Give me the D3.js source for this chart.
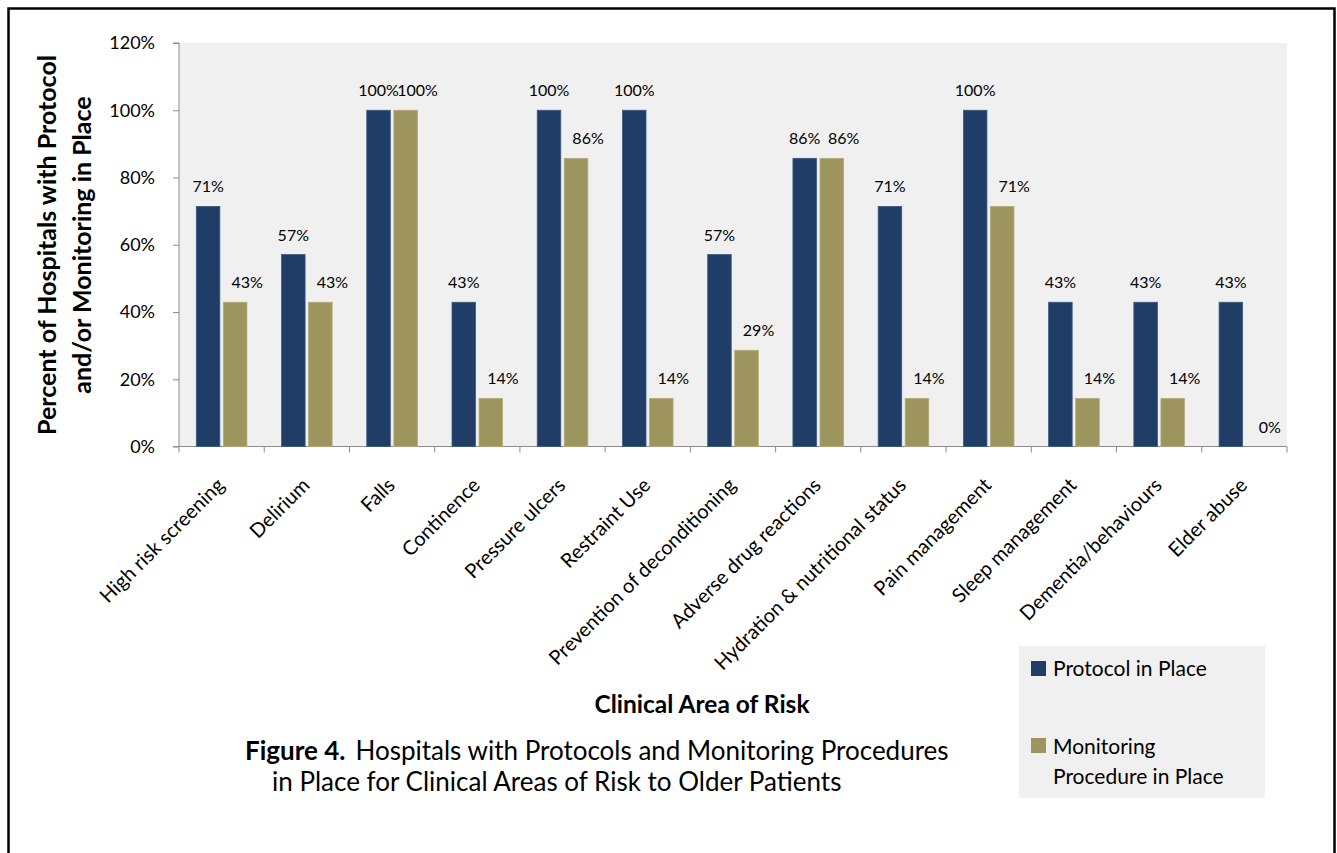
<!DOCTYPE html>
<html><head><meta charset="utf-8">
<script src="https://cdn.jsdelivr.net/npm/d3@7"></script>
<style>body{margin:0;background:#fff}svg{display:block;font-family:Lato,"Open Sans",sans-serif}</style>
</head><body><svg id="c" width="1337" height="853"></svg>
<script>
const categories = ["High risk screening","Delirium","Falls","Continence","Pressure ulcers","Restraint Use","Prevention of deconditioning","Adverse drug reactions","Hydration & nutritional status","Pain management","Sleep management","Dementia/behaviours","Elder abuse"];
const protocolValues = [71.4,57.1,100,42.9,100,100,57.1,85.7,71.4,100,42.9,42.9,42.9];
const monitoringValues = [42.9,42.9,100,14.3,85.7,14.3,28.6,85.7,14.3,71.4,14.3,14.3,0];
const seriesNames = ["Protocol in Place","Monitoring Procedure in Place"];
const seriesColors = ["#1F3D66","#9E945E"];
const yTicks = [0,20,40,60,80,100,120];

const svg = d3.select("#c");
svg.append("rect").attr("x",8.5).attr("y",8.5).attr("width",1326).attr("height",860)
  .attr("fill","none").attr("stroke","#000").attr("stroke-width",2.5);

const L=179,R=1287,T=43,B=446.5;
svg.append("rect").attr("x",L).attr("y",T).attr("width",R-L).attr("height",B-T).attr("fill","#F0F0F0");

const x = d3.scaleBand().domain(categories).range([L,R]);
const y = d3.scaleLinear().domain([0,120]).range([B,T]);
const x1 = d3.scaleBand().domain([0,1]).range([0,x.bandwidth()]).paddingInner(0.13).paddingOuter(0.64);

// y axis
const ya = svg.append("g").attr("transform",`translate(${L},0)`)
  .call(d3.axisLeft(y).tickValues(yTicks).tickFormat(d=>d+"%").tickSize(6).tickPadding(18));
ya.select(".domain").attr("stroke","#8c8c8c").attr("d",`M-6,${T}H0V${B}`);
ya.selectAll(".tick line").attr("stroke","#8c8c8c");
ya.selectAll(".tick text").attr("font-size",18).attr("fill","#000").attr("font-family","Lato");

// x axis line + ticks at boundaries
const xa = svg.append("g");
xa.append("line").attr("x1",L-6).attr("x2",R).attr("y1",B).attr("y2",B).attr("stroke","#8c8c8c").attr("stroke-width",1.2);
const bounds = categories.map(c=>x(c)).concat([R]);
xa.selectAll(".xt").data(bounds).join("line").attr("x1",d=>d).attr("x2",d=>d).attr("y1",B).attr("y2",B+6).attr("stroke","#8c8c8c");

// bars
const series = [protocolValues, monitoringValues];
const labelShift = [0, 12];
series.forEach((vals,si)=>{
  const g = svg.append("g");
  g.selectAll("rect").data(vals).join("rect")
    .attr("x",(d,i)=>x(categories[i])+x1(si))
    .attr("y",d=>y(d))
    .attr("width",x1.bandwidth())
    .attr("height",d=>B-y(d))
    .attr("fill",seriesColors[si])
    .attr("stroke",si===0?"#3b5a82":"#b4ab78").attr("stroke-width",0.8);
  g.selectAll("text").data(vals).join("text")
    .attr("x",(d,i)=>x(categories[i])+x1(si)+x1.bandwidth()/2+labelShift[si])
    .attr("y",d=>y(d)-14)
    .attr("text-anchor","middle").attr("font-size",16).attr("fill","#000")
    .text(d=>d3.format(".0f")(d)+"%");
});

// x labels
svg.append("g").selectAll("text").data(categories).join("text")
  .attr("transform",d=>`translate(${x(d)+x.bandwidth()/2+4},${B+40}) rotate(-45)`)
  .attr("text-anchor","end").attr("font-size",20).attr("fill","#000").text(d=>d);

// y title
svg.append("text").attr("transform","translate(56,245) rotate(-90)").attr("text-anchor","middle").attr("font-weight","bold").attr("font-size",25).text("Percent of Hospitals with Protocol");
svg.append("text").attr("transform","translate(91,245) rotate(-90)").attr("text-anchor","middle").attr("font-weight","bold").attr("font-size",25).text("and/or Monitoring in Place");

// x title
svg.append("text").attr("x",702).attr("y",713).attr("text-anchor","middle").attr("font-weight","bold").attr("font-size",24.5).text("Clinical Area of Risk");

// legend
const lg = svg.append("g");
lg.append("rect").attr("x",1019).attr("y",646).attr("width",246).attr("height",152).attr("fill","#F0F0F0");
lg.append("rect").attr("x",1031).attr("y",661).attr("width",15).attr("height",15).attr("fill",seriesColors[0]);
lg.append("text").attr("x",1053).attr("y",676).attr("font-size",21).text(seriesNames[0]);
lg.append("rect").attr("x",1031).attr("y",738).attr("width",15).attr("height",15).attr("fill",seriesColors[1]);
lg.append("text").attr("x",1053).attr("y",754).attr("font-size",21).text("Monitoring");
lg.append("text").attr("x",1053).attr("y",784).attr("font-size",21).text("Procedure in Place");

// figure caption
const cap = svg.append("text").attr("x",245).attr("y",760).attr("font-size",26);
cap.append("tspan").attr("font-weight","bold").text("Figure 4.");
cap.append("tspan").attr("dx",10).text("Hospitals with Protocols and Monitoring Procedures");
svg.append("text").attr("x",272).attr("y",791).attr("font-size",26).text("in Place for Clinical Areas of Risk to Older Patients");
</script></body></html>
